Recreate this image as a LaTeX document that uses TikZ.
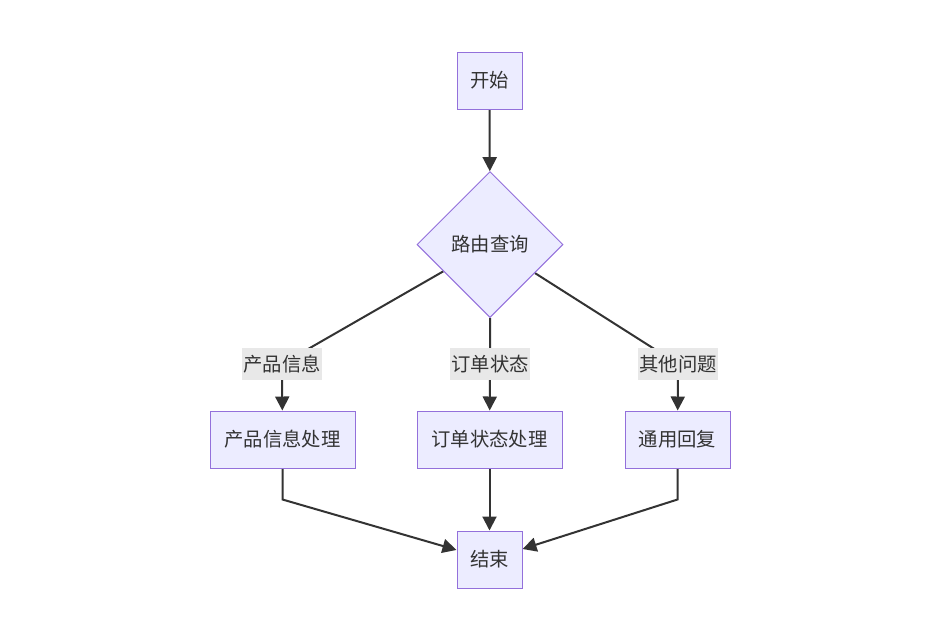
\documentclass[tikz,border=0pt]{standalone}
\usepackage{fontspec}
\setmainfont{Noto Sans CJK SC}
\usetikzlibrary{shapes.geometric,arrows.meta,backgrounds}
\definecolor{nodefill}{HTML}{ECECFF}
\definecolor{nodeline}{HTML}{9370DB}
\definecolor{edgecol}{HTML}{333333}
\definecolor{lblbg}{HTML}{E8E8E8}
\tikzset{
  txt/.style={text=edgecol, font=\fontsize{14.5pt}{16pt}\selectfont},
  box/.style={txt, draw=nodeline, fill=nodefill, line width=0.75pt, inner sep=0pt,
    minimum height=42.75pt},
  dia/.style={txt, diamond, draw=nodeline, fill=nodefill, line width=0.75pt, inner sep=0pt,
    minimum width=109.5pt, minimum height=109.5pt},
  lbl/.style={txt, fill=lblbg, inner sep=0pt, minimum width=60pt, minimum height=24pt},
  edge/.style={draw=edgecol, line width=1.5pt, -{Triangle[length=10.5pt,width=10.5pt]}}
}
\begin{document}
\begin{tikzpicture}[x=0.75pt,y=-0.75pt]
\useasboundingbox (0,0) rectangle (945,619);
\node[box, minimum width=48.75pt] (start) at (489.5,80.5) {开始};
\node[dia] (route) at (490,244.5) {路由查询};
\node[box, minimum width=108.75pt] (prod) at (282.5,439.5) {产品信息处理};
\node[box, minimum width=108.75pt] (order) at (489.5,439.5) {订单状态处理};
\node[box, minimum width=78.75pt] (gen) at (677.5,439.5) {通用回复};
\node[box, minimum width=48.75pt] (end) at (489.5,559.5) {结束};
\node[lbl] (l1) at (282,364) {产品信息};
\node[lbl] (l2) at (490,364) {订单状态};
\node[lbl] (l3) at (678,364) {其他问题};
\coordinate (k1) at (282.5,499.5);
\coordinate (k3) at (677.5,499.5);
\begin{scope}[on background layer]
\draw[edge] (start) -- (route);
\draw[edge] (route) -- (l1.center) -- (prod);
\draw[edge] (route) -- (l2.center) -- (order);
\draw[edge] (route) -- (l3.center) -- (gen);
\draw[edge] (prod) -- (k1) -- (end);
\draw[edge] (order) -- (end);
\draw[edge] (gen) -- (k3) -- (end);
\end{scope}
\end{tikzpicture}
\end{document}
